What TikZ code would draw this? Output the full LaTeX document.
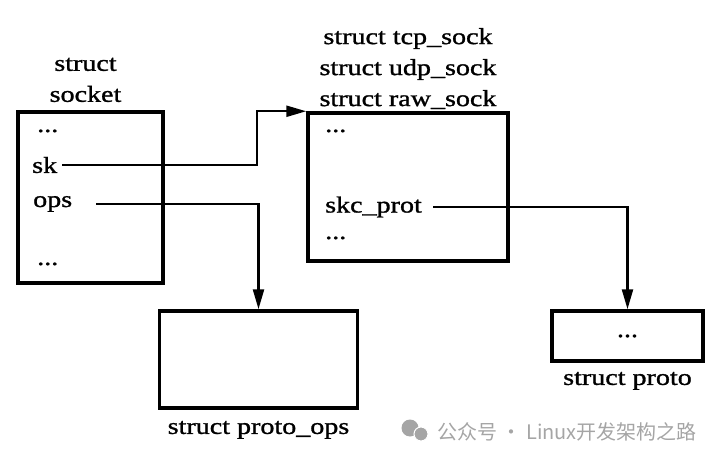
\documentclass[tikz,border=0pt]{standalone}
\usepackage{fontspec}
\setmainfont{Liberation Serif}[FakeStretch=1.22,FakeBold=1.2]
\newfontfamily\cjkfont{Noto Sans CJK SC}
\usepackage{tikz}
\usetikzlibrary{positioning}
\usetikzlibrary{arrows.meta}
\definecolor{wmgray}{RGB}{165,165,165}

\begin{document}
\begin{tikzpicture}[
        x=1pt, y=1pt,
        every node/.style={font=\fontsize{23}{31}\selectfont},
        box/.style={draw, line width=3.5pt, inner sep=0pt},
        fld/.style={inner sep=0pt},
        lbl/.style={inner sep=0pt, align=center},
        arr/.style={line width=2.4pt, -{Triangle[length=20pt,width=11pt]}},
        wmtext/.style={text=wmgray, inner sep=0pt, font=\cjkfont\fontsize{20}{24}\selectfont}]

        \useasboundingbox (0,0) rectangle (720,461);

        \node[box, minimum width=145pt, minimum height=171pt] (sock) at (90.5,263.5) {};
        \node[box, minimum width=200pt, minimum height=148pt] (inet) at (408,274) {};
        \node[box, minimum width=198pt, minimum height=97pt] (opsbox) at (258.5,101.5) {};
        \node[box, minimum width=151pt, minimum height=50pt] (protobox) at (627.5,125) {...};

        \node[lbl, above=8pt of sock, xshift=-5pt] (sockname) {struct\\socket};
        \node[lbl, above=2pt of inet] (inetname) {struct tcp\_sock\\struct udp\_sock\\struct raw\_sock};
        \node[lbl, below=11pt of opsbox] (opsname) {struct proto\_ops};
        \node[lbl, below=9pt of protobox] (protoname) {struct proto};

        \node[fld, anchor=base west] (sockdots1) at (37,329) {...};
        \node[fld, anchor=west] (sk) at (32,296) {sk};
        \node[fld, anchor=west] (ops) at (33,257) {ops};
        \node[fld, anchor=base west] (sockdots2) at (37,196) {...};

        \node[fld, anchor=base west] (inetdots1) at (325,329) {...};
        \node[fld, anchor=west] (skc) at (325,254) {skc\_prot};
        \node[fld, anchor=base west] (inetdots2) at (325,222) {...};

        \coordinate (skturn) at (257,321);

        \draw[arr, shorten <=5pt] (sk.east) -| (skturn) |- (inet.north west);
        \draw[arr, shorten <=24pt] (ops.east) -| (opsbox.north);
        \draw[arr, shorten <=11pt] (skc.east) -| (protobox.north);

        \fill[wmgray] (410,33) circle (8.5);
        \fill[wmgray, draw=white, line width=1pt] (421,27) circle (7);
        \node[wmtext, anchor=west] (wm) at (437,29) {公众号 · Linux开发架构之路};

    \end{tikzpicture}
\end{document}
